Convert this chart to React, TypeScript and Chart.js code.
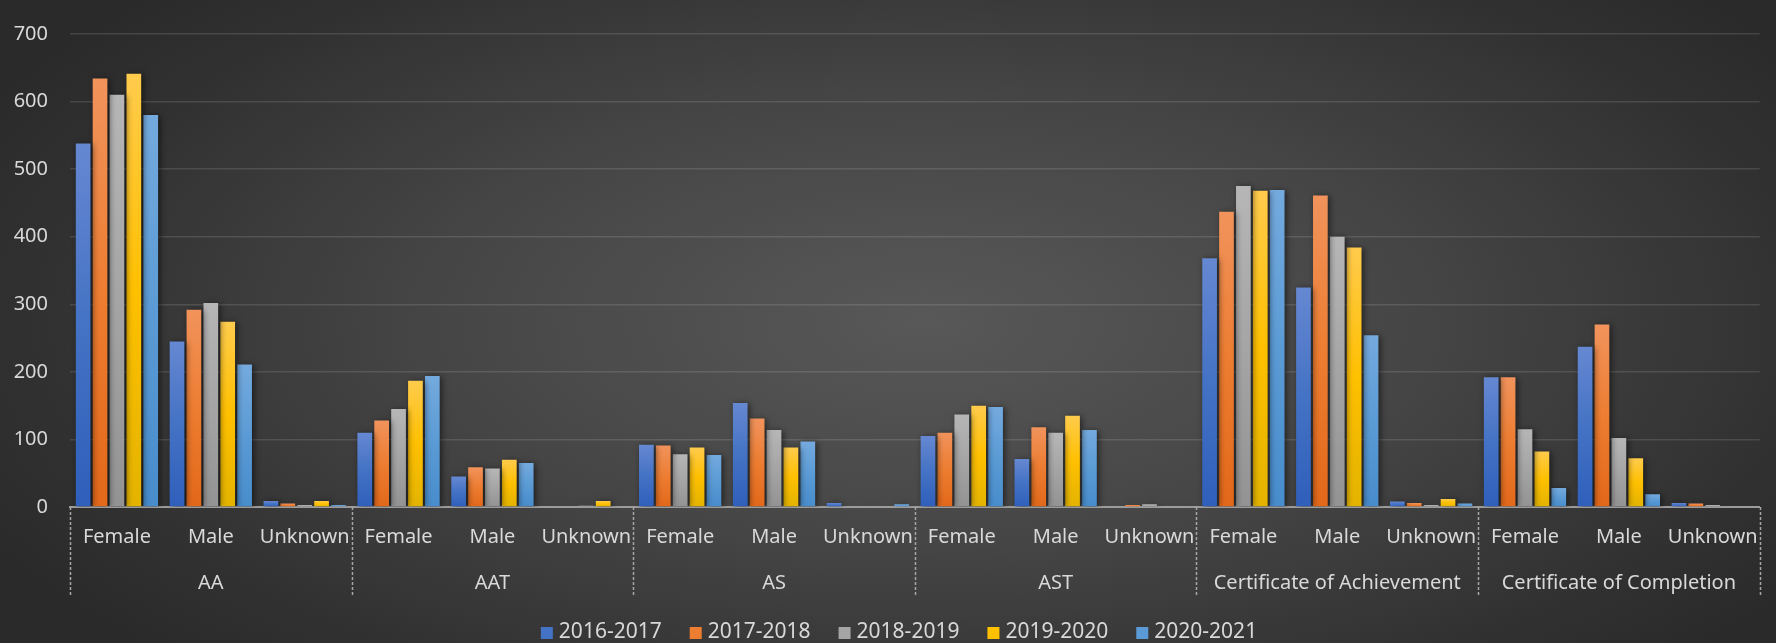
import React, { useEffect, useRef } from "react";
import { Chart, registerables } from "chart.js";

Chart.register(...registerables);

const groups = ["AA", "AAT", "AS", "AST", "Certificate of Achievement", "Certificate of Completion"];
const genders = ["Female", "Male", "Unknown"];
const seriesNames = ["2016-2017", "2017-2018", "2018-2019", "2019-2020", "2020-2021"];

// values in order: group x (Female, Male, Unknown)
const s2016 = [538, 245, 9, 110, 45, 0, 92, 154, 6, 105, 71, 1, 368, 325, 8, 192, 237, 6];
const s2017 = [634, 292, 5, 128, 59, 1, 91, 131, 0, 110, 118, 3, 437, 461, 6, 192, 270, 5];
const s2018 = [610, 302, 3, 145, 57, 2, 78, 114, 1, 137, 110, 4, 475, 400, 3, 115, 102, 3];
const s2019 = [641, 274, 9, 187, 70, 9, 88, 88, 0, 150, 135, 1, 468, 384, 12, 82, 72, 0];
const s2020 = [580, 211, 3, 194, 65, 1, 77, 97, 4, 148, 114, 1, 469, 254, 5, 28, 19, 0];

const yMin = 0;
const yMax = 700;
const yStep = 100;

const baseColors = ["#4472C4", "#ED7D31", "#A5A5A5", "#FFC000", "#5B9BD5"];
const topColors = ["#6688d2", "#f1935c", "#b6b6b6", "#ffcb4c", "#74aade"];
const bottomColors = ["#2f5fbb", "#e2681a", "#939393", "#e3b300", "#478ccc"];

const TEXT = "#d9d9d9";
const FONT = "'Noto Sans', 'Open Sans', sans-serif";

export default function App() {
  const ref = useRef<HTMLCanvasElement | null>(null);

  useEffect(() => {
    if (!ref.current) return;
    const labels: string[] = [];
    groups.forEach(() => genders.forEach((g) => labels.push(g)));
    const seriesValues = [s2016, s2017, s2018, s2019, s2020];

    const makeBg = (i: number) => (ctx: any) => {
      const chart = ctx.chart;
      const ys = chart.scales && chart.scales.y;
      if (ctx.type !== "data" || !ys || !chart.chartArea) return baseColors[i];
      const v = ctx.parsed ? ctx.parsed.y : 0;
      const top = ys.getPixelForValue(v);
      const bottom = ys.getPixelForValue(0);
      if (!(bottom - top > 0.5)) return baseColors[i];
      const g = chart.ctx.createLinearGradient(0, top, 0, bottom);
      g.addColorStop(0, topColors[i]);
      g.addColorStop(0.5, baseColors[i]);
      g.addColorStop(1, bottomColors[i]);
      return g;
    };

    const shadowPlugin = {
      id: "barShadow",
      beforeDatasetsDraw(chart: any) {
        const c = chart.ctx;
        c.save();
        c.shadowColor = "rgba(0,0,0,0.55)";
        c.shadowBlur = 6;
        c.shadowOffsetX = 2;
        c.shadowOffsetY = 1;
      },
      afterDatasetsDraw(chart: any) {
        chart.ctx.restore();
      },
    };

    const decorPlugin = {
      id: "decor",
      afterDraw(chart: any) {
        const c = chart.ctx;
        const xs = chart.scales.x;
        const area = chart.chartArea;
        const catW = (area.right - area.left) / labels.length;
        c.save();
        // group dividers
        c.strokeStyle = "#a6a6a6";
        c.lineWidth = 1.5;
        c.setLineDash([3, 2]);
        for (let k = 0; k <= groups.length; k++) {
          const x = Math.round(area.left + k * 3 * catW) + 0.5;
          c.beginPath();
          c.moveTo(x, area.bottom);
          c.lineTo(x, area.bottom + 90);
          c.stroke();
        }
        c.setLineDash([]);
        // group labels
        c.fillStyle = TEXT;
        c.font = "20px " + FONT;
        c.textAlign = "center";
        c.textBaseline = "alphabetic";
        groups.forEach((g, k) => {
          const cx = xs.getPixelForValue(k * 3 + 1);
          c.fillText(g, cx, 589);
        });
        // legend
        c.font = "21px " + FONT;
        const box = 12;
        const gapText = 6;
        const gapItem = 28;
        const widths = seriesNames.map((n) => c.measureText(n).width);
        const total =
          widths.reduce((a, b) => a + b, 0) + seriesNames.length * (box + gapText) + gapItem * (seriesNames.length - 1);
        let x = 899 - total / 2;
        const cy = 633;
        c.textAlign = "left";
        c.textBaseline = "middle";
        seriesNames.forEach((n, i) => {
          c.fillStyle = baseColors[i];
          c.fillRect(x, cy - box / 2, box, box);
          c.fillStyle = TEXT;
          c.fillText(n, x + box + gapText, cy - 1);
          x += box + gapText + widths[i] + gapItem;
        });
        c.restore();
      },
    };

    const chart = new Chart(ref.current, {
      type: "bar",
      data: {
        labels,
        datasets: seriesValues.map((vals, i) => ({
          label: seriesNames[i],
          data: vals,
          backgroundColor: makeBg(i),
          borderWidth: 0,
          categoryPercentage: 0.9,
          barPercentage: 0.87,
        })),
      },
      options: {
        animation: false,
        responsive: true,
        maintainAspectRatio: false,
        layout: { padding: { left: 0, right: 13, top: 17, bottom: 0 } },
        plugins: {
          legend: { display: false },
          tooltip: { enabled: false },
        },
        scales: {
          x: {
            grid: { display: false, drawTicks: false },
            border: { display: true, color: "#9c9c9c", width: 2, dash: [2, 2] },
            ticks: {
              color: TEXT,
              font: { size: 20, family: FONT },
              padding: 18,
              autoSkip: false,
              maxRotation: 0,
              minRotation: 0,
            },
            afterFit(scale: any) {
              scale.height = 136;
            },
          },
          y: {
            min: yMin,
            max: yMax,
            grid: { color: "rgba(255,255,255,0.12)", lineWidth: 1.5, drawTicks: false },
            border: { display: false },
            ticks: {
              stepSize: yStep,
              color: TEXT,
              font: { size: 20, family: FONT },
              padding: 22,
            },
            afterFit(scale: any) {
              scale.width = 70;
            },
          },
        },
      },
      plugins: [shadowPlugin, decorPlugin],
    });
    return () => chart.destroy();
  }, []);

  return (
    <div
      style={{
        position: "fixed",
        left: 0,
        top: 0,
        width: 1776,
        height: 643,
        background:
          "radial-gradient(ellipse 60% 75% at 52% 50%, #585858 0%, #464646 45%, #303030 85%, #2a2a2a 100%)",
      }}
    >
      <canvas ref={ref} style={{ width: "100%", height: "100%" }} />
    </div>
  );
}
